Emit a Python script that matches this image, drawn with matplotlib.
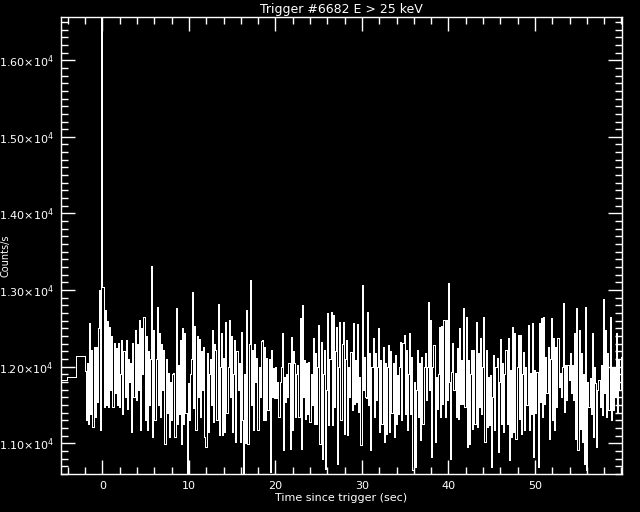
import numpy as np
import matplotlib
matplotlib.use("Agg")
import matplotlib.pyplot as plt

title = "Trigger #6682 E > 25 keV"
xlabel = "Time since trigger (sec)"
ylabel = "Counts/s"

# pre-trigger 1.024 s bins
pre_edges = [-5.12, -4.096, -3.072, -2.048]
pre_rate = [11830, 11870, 12140]

# 128 ms bins starting at -2.048 s
t_start = -2.048
dt = 0.128
rate = [
    11950, 11300, 12043, 11257, 12566, 11388, 12217, 11214, 12261, 11345, 12261, 11541, 12500, 13002, 11170, 16900,
    13046, 11475, 12741, 11500, 12600, 11475, 12523, 11700, 12400, 11475, 12304, 11650, 12250, 11500, 12304, 11475,
    11900, 12348, 11388, 12200, 11600, 12348, 11450, 12100, 11800, 12050, 11148, 12304, 11600, 12479, 11563, 12300,
    11700, 12610, 11170, 12500, 11900, 12653, 11300, 12400, 11170, 12200, 11500, 12100, 13317, 11083, 12479, 11300,
    12100, 12784, 11500, 12435, 11345, 12300, 11700, 12217, 10995, 12100, 11400, 11912, 11083, 11800, 11300, 11900,
    11912, 11083, 12762, 11257, 12021, 11388, 12348, 10995, 12500, 11257, 12435, 11400, 10550, 11781, 11301, 11900,
    12100, 12980, 11463, 12531, 11170, 12400, 11600, 12357, 11345, 12200, 11700, 12261, 11083, 10952, 12174, 11148,
    11900, 12100, 11500, 12479, 11279, 12300, 12217, 11301, 12819, 11104, 12000, 12435, 11104, 12108, 11148, 12588,
    11400, 12000, 12610, 11600, 12400, 11148, 11900, 12348, 11017, 12200, 11700, 12043, 11017, 12457, 11300, 10550,
    11900, 11000, 12741, 10995, 12300, 13133, 11500, 12217, 11170, 12300, 11800, 12108, 11170, 12000, 11600, 12339,
    12348, 11301, 12261, 11301, 12108, 11432, 12100, 10625, 12217, 11600, 11978, 11585, 12000, 11585, 11800, 11345,
    11800, 12000, 12435, 10908, 11868, 11541, 11900, 11600, 12043, 10930, 12391, 11170, 12200, 12043, 11345, 11900,
    12021, 11345, 12632, 10930, 12806, 11600, 12086, 11323, 12043, 11388, 12065, 11279, 11900, 11500, 12370, 11257,
    12173, 11257, 12000, 12544, 10995, 12326, 10799, 11900, 12217, 10668, 11700, 12697, 11236, 12100, 12719, 11236,
    12675, 11475, 12200, 12522, 10734, 12000, 12588, 11301, 12300, 12588, 11126, 12100, 12348, 11104, 12000, 11600,
    12195, 11432, 12566, 11519, 12086, 11541, 12557, 11410, 11868, 10974, 13068, 11700, 12130, 11606, 11585, 12719,
    11500, 12173, 10908, 12000, 12370, 11345, 12173, 11563, 12000, 12501, 11148, 12086, 11257, 12261, 11017, 12043,
    11126, 12000, 12283, 11148, 12200, 11400, 12043, 11083, 12152, 11257, 11890, 11388, 12000, 12326, 11301, 12304,
    12413, 11388, 12217, 11170, 11900, 12435, 11388, 12130, 10646, 11803, 10690, 11700, 12217, 11345, 12043, 11039,
    12130, 11257, 12000, 12173, 11563, 12000, 12850, 11700, 12610, 10821, 12000, 12283, 11017, 11868, 11454, 11900,
    12522, 11345, 12531, 11519, 12610, 11345, 12610, 11563, 13090, 11800, 10799, 11925, 12304, 11694, 11912, 11345,
    12239, 11323, 12501, 11519, 12086, 11519, 12762, 11475, 12653, 10952, 12086, 10995, 11900, 12217, 11192, 12217,
    11257, 12588, 11214, 12174, 11475, 12370, 11388, 12000, 12653, 11017, 12217, 11214, 11868, 11235, 11890, 10690,
    11600, 12152, 11170, 12000, 12108, 10886, 11800, 12357, 11257, 12043, 11148, 11900, 12217, 11257, 12370, 10777,
    11955, 11083, 12522, 11148, 12435, 11061, 12000, 12413, 11323, 12413, 11126, 11900, 12195, 11170, 12000, 11500,
    12544, 11170, 11912, 11388, 12566, 10821, 11955, 11389, 11934, 10690, 12566, 11541, 12632, 11345, 12653, 11519,
    12130, 11650, 12261, 11061, 12100, 12632, 11301, 12370, 11170, 12261, 11475, 12370, 11737, 11912, 11606, 12000,
    12828, 11410, 12021, 11563, 12021, 11824, 12174, 11650, 12021, 11563, 12435, 11061, 12762, 10908, 12479, 11192,
    12174, 11017, 11900, 10734, 12784, 10646, 11803, 11475, 11846, 11388, 12435, 11083, 12000, 11781, 10952, 11700,
    11824, 11475, 12021, 11367, 12880, 11650, 12479, 11345, 12174, 11432, 12653, 11301, 11999, 11432, 12000, 11600,
    12435, 11410, 12100, 11700, 12130, 10865, 12261, 10886,
]

xticks = [0, 10, 20, 30, 40, 50]
yticks = [11000, 12000, 13000, 14000, 15000, 16000]
yticklabels = [r"1.10$\times$10$^{4}$", r"1.20$\times$10$^{4}$", r"1.30$\times$10$^{4}$",
               r"1.40$\times$10$^{4}$", r"1.50$\times$10$^{4}$", r"1.60$\times$10$^{4}$"]

edges = np.concatenate([pre_edges, t_start + dt * np.arange(1, len(rate) + 1)])
values = np.array(pre_rate + rate, dtype=float)

fig = plt.figure(figsize=(6.4, 5.12), dpi=100, facecolor="black")
ax = fig.add_axes([0.0948, 0.0736, 0.877, 0.8926], facecolor="black")

ax.stairs(values, edges, baseline=None, color="white", linewidth=0.72,
          antialiased=False)

ax.set_xlim(-4.83, 60.06)
ax.set_ylim(10595, 16560)

ax.set_xticks(xticks)
ax.set_xticklabels([str(v) for v in xticks])
ax.set_xticks(np.arange(-4, 61, 2), minor=True)
ax.set_yticks(yticks)
ax.set_yticklabels(yticklabels)
ax.set_yticks(np.arange(10600, 16600, 100), minor=True)

for s in ax.spines.values():
    s.set_color("white")
    s.set_linewidth(1.0)

ax.tick_params(which="both", direction="in", colors="white", top=True, right=True,
               labelsize=8, width=1.0)
ax.tick_params(which="major", length=10, pad=5)
ax.tick_params(which="minor", length=5)

ax.set_title(title, color="white", fontsize=9, pad=3)
ax.set_xlabel(xlabel, color="white", fontsize=8, labelpad=1)
fig.text(6 / 640, 0.50, ylabel, color="white", fontsize=7, rotation=90,
         ha="center", va="center")

fig.savefig("out.png", dpi=100, facecolor="black")
